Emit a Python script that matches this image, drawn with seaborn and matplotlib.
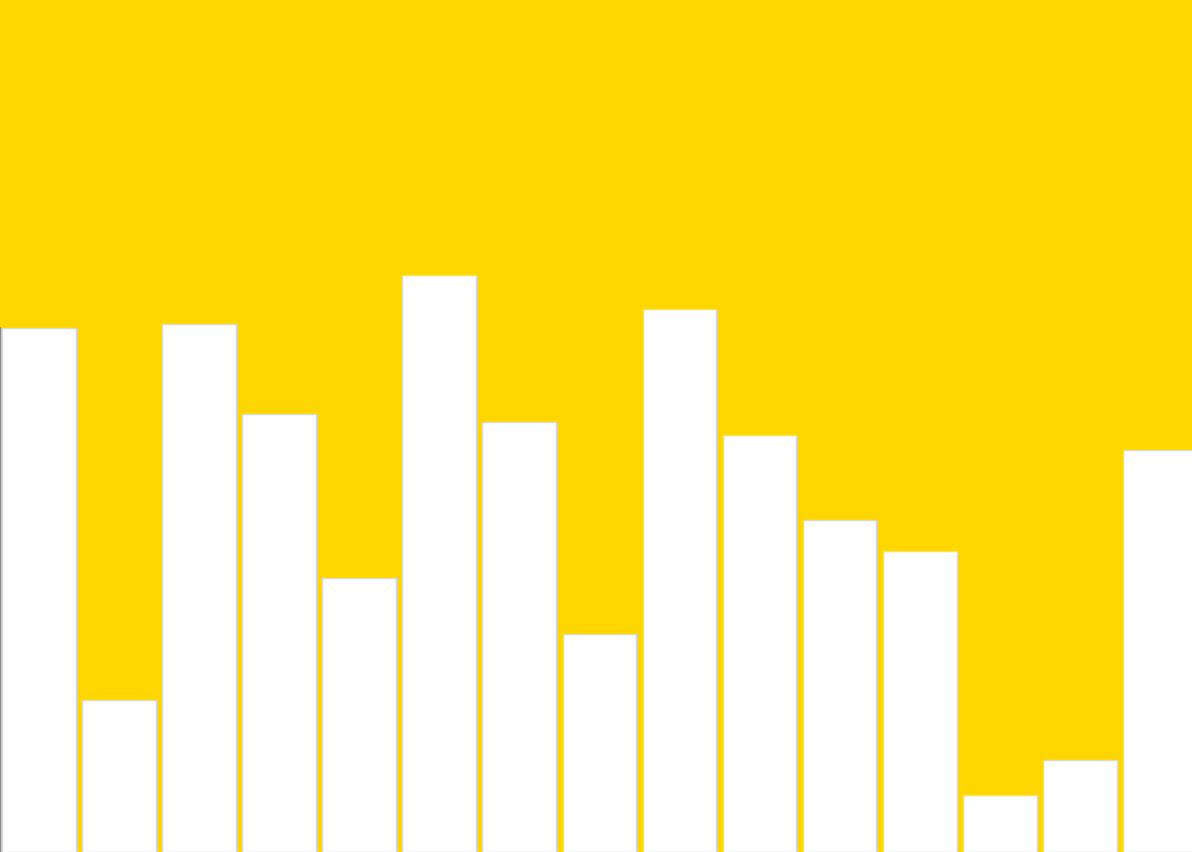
import matplotlib
matplotlib.use("Agg")
import matplotlib.pyplot as plt
import seaborn as sns
import pandas as pd

categories = list("ABCDEFGHIJKLMNO")
values = [61.5, 17.8, 62.0, 51.4, 32.2, 67.7, 50.5, 25.6, 63.7, 48.9, 39.0, 35.3, 6.7, 10.8, 47.2]

df = pd.DataFrame({"cat": categories, "val": values})

fig = plt.figure(figsize=(11.92, 8.52), dpi=100)
ax = fig.add_axes([0, 0, 1, 1])
ax.set_facecolor("#FFD700")
fig.patch.set_facecolor("#FFD700")

sns.barplot(data=df, x="cat", y="val", order=categories, color="white",
            width=0.92, edgecolor="#d9d9d9", linewidth=1, saturation=1, ax=ax)

ax.set_xlim(-0.484, 14.40)
ax.set_ylim(0, 100)
for s in ["top", "right", "bottom"]:
    ax.spines[s].set_visible(False)
ax.spines["left"].set_color("#888888")
ax.spines["left"].set_linewidth(1.5)
ax.spines["left"].set_bounds(0, values[0])
ax.set_xticks([])
ax.set_yticks([])
ax.set_xlabel("")
ax.set_ylabel("")

fig.savefig("out.png", dpi=100, facecolor="#FFD700")
